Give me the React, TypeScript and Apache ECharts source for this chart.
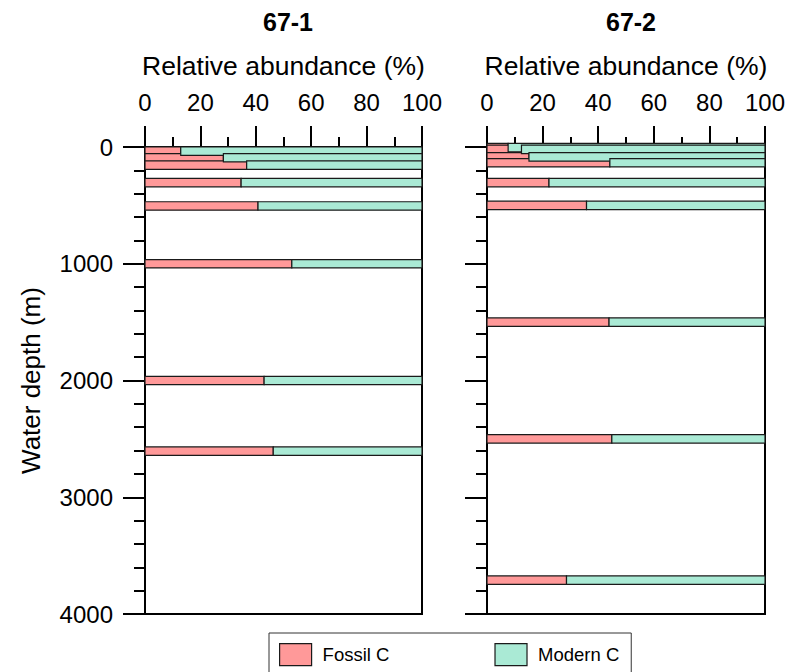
import React, { useEffect, useRef } from "react";
import * as echarts from "echarts";

// Station 67-1
const depth671 = [35, 92, 155, 305, 505, 1000, 2000, 2605];
const fossil671 = [12.9, 28.3, 36.7, 34.7, 40.8, 53.0, 43.0, 46.3];
const modern671 = [87.1, 71.7, 63.3, 65.3, 59.2, 47.0, 57.0, 53.7];

// Station 67-2
const depth672 = [5, 20, 85, 135, 305, 500, 1500, 2500, 3710];
const fossil672 = [7.6, 12.4, 15.1, 44.2, 22.3, 35.8, 43.9, 44.9, 28.6];
const modern672 = [92.4, 87.6, 84.9, 55.8, 77.7, 64.2, 56.1, 55.1, 71.4];

const panelTitles = ["67-1", "67-2"];
const seriesNames = ["Fossil C", "Modern C"];

const FOSSIL = "#FF9999";
const MODERN = "#AAEAD5";
const BAR_H = 72; // bar thickness in metres

const FONT = "'Liberation Sans', Arial, sans-serif";

function renderBar(_params: any, api: any) {
  const d = api.value(2);
  const s = api.coord([api.value(0), d]);
  const e = api.coord([api.value(1), d]);
  const h = Math.abs(api.size([0, BAR_H])[1]);
  return {
    type: "rect",
    shape: { x: s[0], y: s[1] - h / 2, width: e[0] - s[0], height: h },
    style: { fill: api.visual("color"), stroke: "#1a1a1a", lineWidth: 1.2 },
  };
}

export default function App() {
  const ref = useRef<HTMLDivElement>(null);
  useEffect(() => {
    if (!ref.current) return;
    const chart = echarts.init(ref.current, undefined, { renderer: "svg" });

    const panels = [
      { depth: depth671, fossil: fossil671, modern: modern671 },
      { depth: depth672, fossil: fossil672, modern: modern672 },
    ];
    const grids = [
      { left: 145, top: 147, width: 277, height: 467 },
      { left: 487, top: 147, width: 278, height: 467 },
    ];

    const series: any[] = [];
    panels.forEach((p, i) => {
      const fossilData = p.depth.map((d, k) => [0, p.fossil[k], d]);
      const modernData = p.depth.map((d, k) => [p.fossil[k], p.fossil[k] + p.modern[k], d]);
      series.push({
        type: "custom",
        name: seriesNames[0],
        xAxisIndex: i,
        yAxisIndex: i,
        renderItem: renderBar,
        itemStyle: { color: FOSSIL },
        encode: { x: [0, 1], y: 2 },
        data: fossilData,
        z: 3,
      });
      series.push({
        type: "custom",
        name: seriesNames[1],
        xAxisIndex: i,
        yAxisIndex: i,
        renderItem: renderBar,
        itemStyle: { color: MODERN },
        encode: { x: [0, 1], y: 2 },
        data: modernData,
        z: 3,
      });
    });

    const axisLine = { show: true, lineStyle: { color: "#000", width: 2 } };
    const titleStyle = { fontSize: 25, fontWeight: "bold", color: "#000", fontFamily: FONT };

    chart.setOption({
      animation: false,
      backgroundColor: "#fff",
      textStyle: { fontFamily: FONT },
      title: [
        { text: panelTitles[0], left: 283, top: 4, textAlign: "center", textStyle: titleStyle },
        { text: panelTitles[1], left: 626, top: 4, textAlign: "center", textStyle: titleStyle },
      ],
      legend: {
        data: seriesNames,
        left: 269,
        top: 633,
        padding: [10, 12, 20, 10],
        itemWidth: 32,
        itemHeight: 22,
        itemGap: 105,
        icon: "rect",
        borderColor: "#333",
        borderWidth: 1,
        itemStyle: { borderColor: "#1a1a1a", borderWidth: 1.2 },
        textStyle: { fontSize: 18.5, color: "#000", fontFamily: FONT, padding: [0, 0, 0, 6] },
      },
      grid: grids.map((g) => ({
        ...g,
        show: true,
        borderColor: "#000",
        borderWidth: 2,
        backgroundColor: "transparent",
      })),
      xAxis: grids.map((_g, i) => ({
        type: "value",
        gridIndex: i,
        position: "top",
        min: 0,
        max: 100,
        interval: 20,
        name: "Relative abundance (%)",
        nameLocation: "middle",
        nameGap: 68,
        nameTextStyle: { fontSize: 26.5, color: "#000", fontFamily: FONT },
        axisLine,
        axisTick: { show: true, length: 21, inside: false, lineStyle: { color: "#000", width: 2 } },
        minorTick: { show: true, splitNumber: 2, length: 10, lineStyle: { color: "#000", width: 2 } },
        splitLine: { show: false },
        axisLabel: { fontSize: 24, color: "#000", margin: 33, fontFamily: FONT },
      })),
      yAxis: grids.map((_g, i) => ({
        type: "value",
        gridIndex: i,
        inverse: true,
        min: 0,
        max: 4000,
        interval: 1000,
        name: i === 0 ? "Water depth (m)" : "",
        nameLocation: "middle",
        nameGap: 101,
        nameTextStyle: { fontSize: 26, color: "#000", fontFamily: FONT },
        axisLine,
        axisTick: { show: true, length: 22, lineStyle: { color: "#000", width: 2 } },
        minorTick: { show: true, splitNumber: 5, length: 11, lineStyle: { color: "#000", width: 2 } },
        splitLine: { show: false },
        axisLabel: {
          show: i === 0,
          fontSize: 24,
          color: "#000",
          margin: 32,
          fontFamily: FONT,
          formatter: (v: number) => String(v),
        },
      })),
      series,
    });
    return () => chart.dispose();
  }, []);
  return (
    <div
      ref={ref}
      style={{ position: "absolute", left: 0, top: 0, width: 790, height: 672 }}
    />
  );
}
